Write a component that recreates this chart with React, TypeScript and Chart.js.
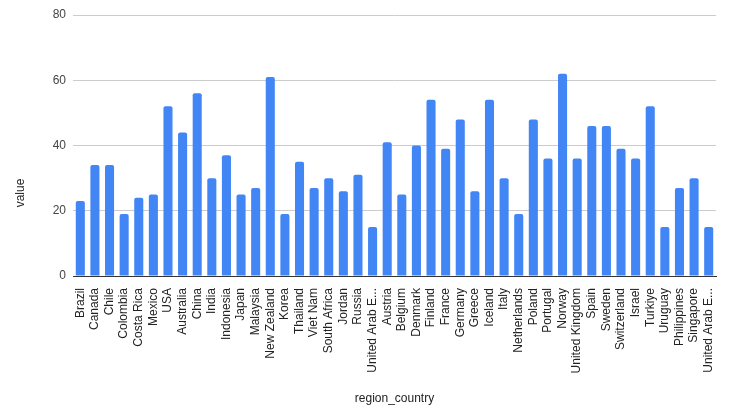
import { useEffect, useRef } from 'react'
import { Chart, ChartConfiguration, Plugin, registerables } from 'chart.js'

Chart.register(...registerables)

const countries = [
  'Brazil', 'Canada', 'Chile', 'Colombia', 'Costa Rica', 'Mexico', 'USA', 'Australia',
  'China', 'India', 'Indonesia', 'Japan', 'Malaysia', 'New Zealand', 'Korea', 'Thailand',
  'Viet Nam', 'South Africa', 'Jordan', 'Russia', 'United Arab Emirates', 'Austria',
  'Belgium', 'Denmark', 'Finland', 'France', 'Germany', 'Greece', 'Iceland', 'Italy',
  'Netherlands', 'Poland', 'Portugal', 'Norway', 'United Kingdom', 'Spain', 'Sweden',
  'Switzerland', 'Israel', 'Turkiye', 'Uruguay', 'Philippines', 'Singapore',
  'United Arab Emirates ',
]

const values = [
  23, 34, 34, 19, 24, 25, 52, 44,
  56, 30, 37, 25, 27, 61, 19, 35,
  27, 30, 26, 31, 15, 41,
  25, 40, 54, 39, 48, 26, 54, 30,
  19, 48, 36, 62, 36, 46, 46,
  39, 36, 52, 15, 27, 30,
  15,
]

const yTicks = [0, 20, 40, 60, 80]

const shorten = (s: string) => (s.trim().length > 15 ? s.slice(0, 13) + '...' : s)

const FONT = '"Liberation Sans", Arial, sans-serif'

// y axis title sits a bit below the middle of the plot, so draw it by hand
const yTitlePlugin: Plugin<'bar'> = {
  id: 'yTitle',
  afterDraw(chart) {
    const ctx = chart.ctx
    ctx.save()
    ctx.translate(21, 193)
    ctx.rotate(-Math.PI / 2)
    ctx.font = `12px ${FONT}`
    ctx.fillStyle = '#222'
    ctx.textAlign = 'center'
    ctx.textBaseline = 'middle'
    ctx.fillText('value', 0, 0)
    ctx.restore()
  },
}

export default function App() {
  const canvasRef = useRef<HTMLCanvasElement>(null)
  const chartRef = useRef<Chart | null>(null)

  useEffect(() => {
    document.body.style.margin = '0'
    if (!canvasRef.current) return
    if (chartRef.current) chartRef.current.destroy()

    const font = { family: FONT, size: 12 }

    const config: ChartConfiguration<'bar'> = {
      type: 'bar',
      data: {
        labels: countries,
        datasets: [
          {
            label: 'value',
            data: values,
            backgroundColor: '#4285F4',
            borderRadius: { topLeft: 2, topRight: 2 },
            borderSkipped: 'bottom',
            categoryPercentage: 1,
            barPercentage: 0.62,
          },
        ],
      },
      options: {
        responsive: true,
        maintainAspectRatio: false,
        animation: false,
        layout: { padding: { top: 15, right: 16, left: 0, bottom: 0 } },
        plugins: {
          legend: { display: false },
          tooltip: { enabled: false },
        },
        scales: {
          x: {
            grid: { display: false },
            border: { display: true, color: '#333', width: 1 },
            ticks: {
              color: '#222',
              font,
              padding: 4,
              autoSkip: false,
              minRotation: 90,
              maxRotation: 90,
              callback: function (value) {
                return shorten(countries[value as number])
              },
            },
            title: {
              display: true,
              text: 'region_country',
              color: '#222',
              font,
              padding: { top: 0, bottom: 13 },
            },
            afterFit: (scale) => {
              scale.height = 143
            },
          },
          y: {
            min: 0,
            max: 80,
            afterBuildTicks: (scale) => {
              scale.ticks = yTicks.map((v) => ({ value: v }))
            },
            grid: {
              drawTicks: false,
              color: (ctx) => (ctx.tick && ctx.tick.value === 0 ? '#333' : '#ccc'),
            },
            border: { display: false },
            ticks: { color: '#444', font, padding: 7 },
            afterFit: (scale) => {
              scale.width = 73
            },
          },
        },
      },
      plugins: [yTitlePlugin],
    }

    chartRef.current = new Chart(canvasRef.current, config)
    return () => {
      if (chartRef.current) {
        chartRef.current.destroy()
        chartRef.current = null
      }
    }
  }, [])

  return (
    <div style={{ width: 732, height: 419, position: 'relative', background: '#fff' }}>
      <canvas ref={canvasRef} />
    </div>
  )
}
